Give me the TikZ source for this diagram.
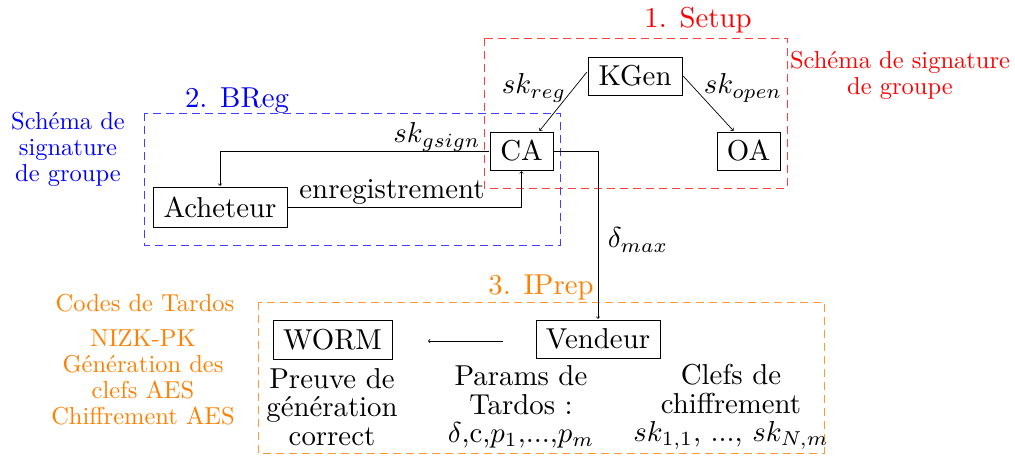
\documentclass[tikz,border=0pt]{standalone}
\begin{document}
\begin{tikzpicture}[x=1pt,y=-1pt,
  big/.style={scale=2.88,transform shape,font=\fontsize{10}{9.8}\selectfont},
  box/.style={big,draw,line width=0.8pt,inner sep=0pt},
  lbl/.style={big,inner sep=0pt},
  sidetxt/.style={scale=2.45,transform shape,inner sep=0pt,align=center,font=\fontsize{10}{10.6}\selectfont},
  title/.style={big,inner sep=0pt},
  grp/.style={draw,line width=0.8pt,dash pattern=on 8pt off 5pt},
  conn/.style={line width=0.7pt,->},
  txt/.style={big,inner sep=0pt,align=center}]
\useasboundingbox (0,0) rectangle (1015,456);
\definecolor{org}{RGB}{255,128,0}
% group boxes
\draw[grp,red!75] (484,38) rectangle (787,188);
\draw[grp,blue!75] (144,113) rectangle (560,245);
\draw[grp,org!80] (258,302) rectangle (824,453);
\node[title,red] (setup) at (698,20) {1. Setup};
\node[title,blue] (breg) at (237,101) {2. BReg};
\node[title,org] (iprep) at (541,287) {3. IPrep};
\node[sidetxt,red] (sr) at (900,75) {Schéma de signature\\de groupe};
\node[sidetxt,blue] (sb) at (68,149) {Schéma de\\signature\\de groupe};
\node[sidetxt,org] (so1) at (145,303) {Codes de Tardos};
\node[sidetxt,org] (so2) at (143,377) {NIZK-PK\\Génération des\\clefs AES\\Chiffrement AES};
% nodes
\node[box,minimum width=32.6pt,minimum height=13.2pt] (kgen) at (635,76) {KGen};
\node[box,minimum width=21.9pt,minimum height=13.2pt] (ca) at (521.5,151) {CA};
\node[box,minimum width=21.9pt,minimum height=13.2pt] (oa) at (748.5,151) {OA};
\node[box,minimum width=46.5pt,minimum height=13.9pt] (ach) at (220,207) {Acheteur};
\node[box,minimum width=43pt,minimum height=13.2pt] (vend) at (598,339) {Vendeur};
\node[box,minimum width=41.3pt,minimum height=13.5pt] (worm) at (332.5,340) {WORM};
% connectors
\draw[conn] ([yshift=4pt]kgen.west) -- ([xshift=18pt]ca.north);
\draw[conn] (kgen.east) -- ([xshift=-15pt]oa.north);
\draw[conn] (ca.west) -| (ach.north);
\draw[conn] (ach.east) -| (ca.south);
\draw[conn] (ca.east) -| (vend.north);
\coordinate (a1) at (503,341);
\coordinate (a2) at (428,341);
\draw[conn] (a1) -- (a2);
% labels
\node[lbl] (lreg) at (534,88) {$sk_{reg}$};
\node[lbl] (lopen) at (743,88) {$sk_{open}$};
\node[lbl] (lgs) at (437,137) {$sk_{gsign}$};
\node[lbl] (lenr) at (392,192) {enregistrement};
\node[lbl] (ldm) at (638,240) {$\delta_{max}$};
\node[txt] (t1) at (332,407) {Preuve de\\génération\\correct};
\node[txt] (t2) at (521,407) {Params de\\Tardos :\\$\delta$,c,$p_1$,...,$p_m$};
\node[txt] (t3) at (731,407) {Clefs de\\chiffrement\\$sk_{1,1}$, ..., $sk_{N,m}$};
\end{tikzpicture}
\end{document}
